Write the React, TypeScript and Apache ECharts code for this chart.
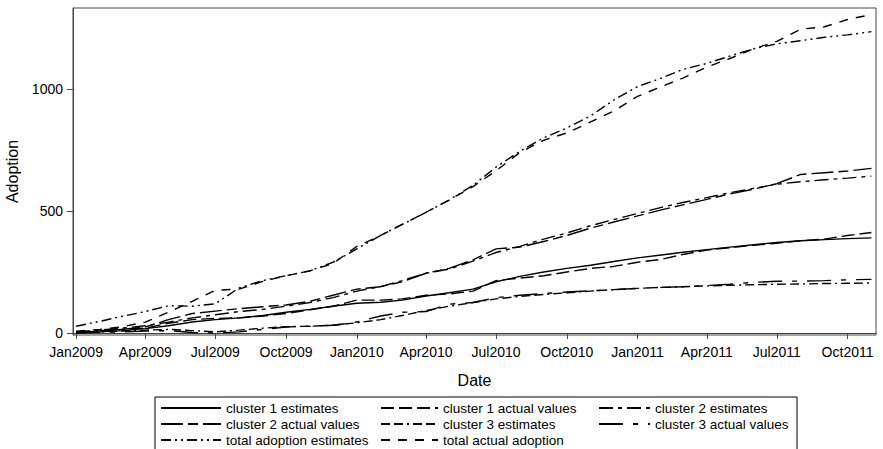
import React, { useEffect, useRef } from 'react';
import * as echarts from 'echarts';

const months = [
  '2009-01','2009-02','2009-03','2009-04','2009-05','2009-06','2009-07','2009-08','2009-09','2009-10','2009-11','2009-12',
  '2010-01','2010-02','2010-03','2010-04','2010-05','2010-06','2010-07','2010-08','2010-09','2010-10','2010-11','2010-12',
  '2011-01','2011-02','2011-03','2011-04','2011-05','2011-06','2011-07','2011-08','2011-09','2011-10','2011-11'
];

const c1Est = [2,5,10,18,30,45,55,62,72,85,97,110,122,126,135,152,165,180,210,232,250,265,278,293,308,320,331,342,352,362,371,378,383,387,390];
const c1Act = [5,10,15,20,40,55,60,62,70,80,95,110,135,135,140,155,160,172,215,225,235,250,265,273,290,302,322,340,350,360,368,378,385,400,412];
const c2Est = [5,12,20,30,45,62,75,88,97,110,125,145,172,190,215,245,262,295,330,355,385,410,440,465,490,515,535,555,575,593,610,620,628,635,643];
const c2Act = [3,8,15,25,55,80,90,100,108,115,130,155,180,190,210,245,265,300,345,352,375,400,430,455,480,505,525,548,570,590,612,650,657,664,675];
const c3Est = [2,5,8,12,15,10,5,12,20,26,28,32,42,55,72,92,110,125,140,150,158,165,172,178,183,187,190,193,196,198,200,201,203,204,205];
const c3Act = [0,3,5,8,10,2,0,5,15,25,28,32,45,70,85,88,118,125,145,155,162,168,173,178,183,187,190,195,200,208,212,213,215,218,220];
const totEst = [28,48,68,88,112,110,120,185,215,235,255,290,345,400,445,495,545,605,680,745,800,840,890,955,1010,1045,1080,1105,1135,1165,1185,1198,1212,1222,1235];
const totAct = [8,15,25,45,85,130,175,180,212,235,255,285,355,400,445,495,545,600,665,740,790,820,865,910,970,1010,1045,1090,1125,1165,1195,1245,1255,1285,1305];

const xTickLabels = ['Jan2009','Apr2009','Jul2009','Oct2009','Jan2010','Apr2010','Jul2010','Oct2010','Jan2011','Apr2011','Jul2011','Oct2011'];
const yTicks = [0, 500, 1000];

const monNames = ['Jan','Feb','Mar','Apr','May','Jun','Jul','Aug','Sep','Oct','Nov','Dec'];
const ts = (ym: string) => {
  const [y, m] = ym.split('-').map(Number);
  return Date.UTC(y, m - 1, 1);
};
const labelTs = (lab: string) => Date.UTC(Number(lab.slice(3)), monNames.indexOf(lab.slice(0, 3)), 1);
const xTickValues = xTickLabels.map(labelTs);

const FONT = 'Liberation Sans, Arial, Helvetica, sans-serif';

const seriesDefs = [
  { name: 'cluster 1 estimates', data: c1Est, type: 'solid' as any },
  { name: 'cluster 1 actual values', data: c1Act, type: [13, 5] },
  { name: 'cluster 2 estimates', data: c2Est, type: [14, 5, 4, 5] },
  { name: 'cluster 2 actual values', data: c2Act, type: [22, 5, 10, 5] },
  { name: 'cluster 3 estimates', data: c3Est, type: [9, 4, 9, 4, 2, 4] },
  { name: 'cluster 3 actual values', data: c3Act, type: [24, 10, 5, 10] },
  { name: 'total adoption estimates', data: totEst, type: [10, 4, 2, 4, 2, 4] },
  { name: 'total actual adoption', data: totAct, type: [9, 8] },
];

export default function App() {
  const ref = useRef<HTMLDivElement>(null);
  useEffect(() => {
    const chart = echarts.init(ref.current!, null, { renderer: 'svg' });
    const legendBase = {
      orient: 'vertical',
      top: 401,
      itemHeight: 14,
      itemGap: 2,
      itemStyle: { opacity: 0 },
      textStyle: { fontFamily: FONT, fontSize: 13.5, color: '#000' },
      padding: 0,
    };
    const option: any = {
      animation: false,
      backgroundColor: '#fff',
      textStyle: { fontFamily: FONT },
      grid: {
        left: 73, right: 7, top: 8, bottom: 114,
        show: true, borderColor: '#444', borderWidth: 1,
        outerBoundsMode: 'none',
      },
      xAxis: {
        type: 'value',
        min: Date.UTC(2008, 11, 28),
        max: Date.UTC(2011, 10, 7),
        name: 'Date',
        nameLocation: 'middle',
        nameGap: 37,
        nameTextStyle: { fontFamily: FONT, fontSize: 16, color: '#000' },
        axisLine: { show: true, lineStyle: { color: '#444', width: 1 } },
        axisTick: { show: true, length: 6, customValues: xTickValues, lineStyle: { color: '#444' } },
        axisLabel: {
          customValues: xTickValues,
          margin: 10,
          fontFamily: FONT, fontSize: 14, color: '#000',
          formatter: (v: number) => {
            const i = xTickValues.indexOf(v);
            return i >= 0 ? xTickLabels[i] : '';
          },
        },
        splitLine: { show: false },
      },
      yAxis: {
        type: 'value',
        min: -8,
        max: 1332,
        name: 'Adoption',
        nameLocation: 'middle',
        nameGap: 36,
        nameTextStyle: { fontFamily: FONT, fontSize: 16, color: '#000' },
        axisLine: { show: true, lineStyle: { color: '#444', width: 1 } },
        axisTick: { show: true, length: 6, customValues: yTicks, lineStyle: { color: '#444' } },
        axisLabel: { customValues: yTicks, margin: 10, fontFamily: FONT, fontSize: 14, color: '#000', formatter: (v: number) => String(v) },
        splitLine: { show: false },
      },
      legend: [
        { ...legendBase, left: 160, itemWidth: 60, data: ['cluster 1 estimates', 'cluster 2 actual values', 'total adoption estimates'] },
        { ...legendBase, left: 380, itemWidth: 57, data: ['cluster 1 actual values', 'cluster 3 estimates', 'total actual adoption'] },
        { ...legendBase, left: 598, itemWidth: 51, data: ['cluster 2 estimates', 'cluster 3 actual values'] },
      ],
      graphic: [
        { type: 'rect', shape: { x: 155, y: 397, width: 642, height: 70 }, style: { fill: 'none', stroke: '#000', lineWidth: 1 }, silent: true },
      ],
      series: seriesDefs.map((s) => ({
        name: s.name,
        type: 'line',
        symbol: 'none',
        data: s.data.map((v, i) => [ts(months[i]), v]),
        lineStyle: { color: '#000', width: 1.4, type: s.type },
        itemStyle: { color: '#000', opacity: 0 },
        emphasis: { disabled: true },
      })),
    };
    chart.setOption(option);
    return () => chart.dispose();
  }, []);
  return <div ref={ref} style={{ position: 'fixed', left: 0, top: 0, width: 883, height: 449 }} />;
}
